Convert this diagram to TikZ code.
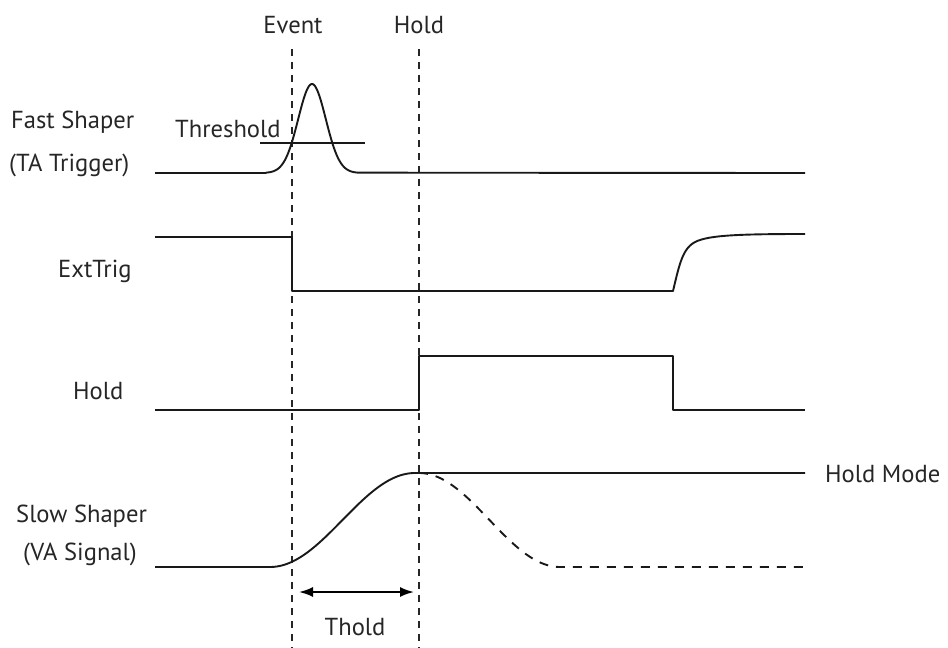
\documentclass[tikz,border=0pt]{standalone}
\usepackage{fontspec}
\setmainfont{PT Sans}
\usetikzlibrary{arrows.meta}
\begin{document}
\begin{tikzpicture}[x=1pt,y=-1pt,
  sig/.style={line width=1.9pt,line join=round,color=black!90},
  guide/.style={line width=1.1pt,dash pattern=on 7pt off 6pt,color=black!85},
  lbl/.style={inner sep=0pt,font=\fontsize{24.6}{28}\selectfont,text=black!85},
  dim/.style={line width=1.9pt,{Latex[length=14pt,width=10pt]}-{Latex[length=14pt,width=10pt]}}]
\useasboundingbox (0,0) rectangle (948,648);
% guides
\coordinate (evtop) at (292,49); \coordinate (evbot) at (292,648);
\coordinate (hdtop) at (419,49); \coordinate (hdbot) at (419,648);
\draw[guide] (evtop) -- (evbot);
\draw[guide] (hdtop) -- (hdbot);
\node[lbl,anchor=base] (lev) at (293,33) {Event};
\node[lbl,anchor=base] (lhd) at (419,33) {Hold};
% fast shaper
\draw[sig] (155,173) -- (266,173)
  plot[domain=266:358,samples=80,smooth] (\x,{173-89*exp(-((\x-312)/19.5)^2)})
  -- (805,173);
\draw[sig] (260,143) -- (365,143);
\node[lbl,anchor=base west] (lthr) at (175,137) {Threshold};
\node[lbl,anchor=base west] (lfs1) at (11,128) {Fast Shaper};
\node[lbl,anchor=base west] (lfs2) at (9,171) {(TA Trigger)};
% ExtTrig
\draw[sig] (155,237) -- (292,237) -- (292,291) -- (673,291)
  .. controls (680,262) and (683,245) .. (700,240)
  .. controls (715,235) and (745,234) .. (805,234);
\node[lbl,anchor=base west] (lext) at (58,277) {ExtTrig};
% Hold
\draw[sig] (155,410) -- (419,410) -- (419,356) -- (673,356) -- (673,410) -- (805,410);
\node[lbl,anchor=base west] (lhold) at (73,399) {Hold};
% Slow shaper
\draw[sig] (155,567) -- (270,567)
  plot[domain=270:415,samples=80,smooth] (\x,{567-47*(1-cos((\x-270)/145*180))})
  -- (805,473);
\draw[sig,dash pattern=on 9pt off 8pt] plot[domain=419:560,samples=80,smooth] (\x,{473+47*(1-cos((\x-419)/141*180))}) -- (805,567);
\node[lbl,anchor=base west] (lhm) at (825,482) {Hold Mode};
\node[lbl,anchor=base west] (lss1) at (16,522) {Slow Shaper};
\node[lbl,anchor=base west] (lss2) at (23,560) {(VA Signal)};
% Thold
\coordinate (ta) at (299,592); \coordinate (tb) at (414,592);
\draw[dim] (ta) -- (tb);
\node[lbl,anchor=base] (ltho) at (355,635) {Thold};
\end{tikzpicture}
\end{document}
